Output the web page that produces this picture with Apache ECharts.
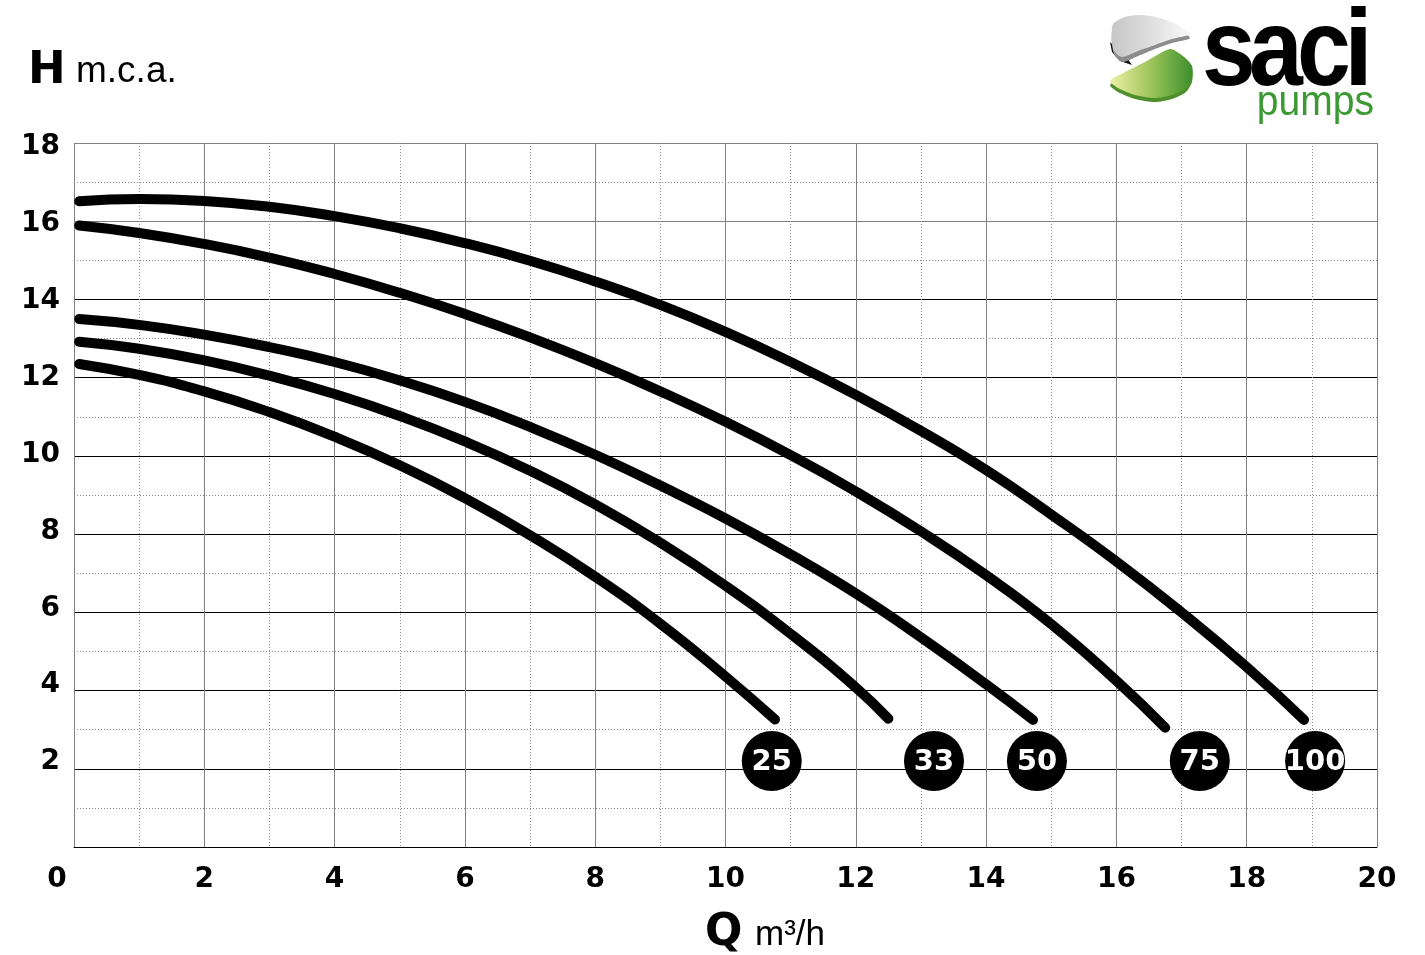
<!DOCTYPE html>
<html><head><meta charset="utf-8">
<script src="https://cdn.jsdelivr.net/npm/echarts@6/dist/echarts.min.js"></script>
<style>html,body{margin:0;padding:0;background:#fff}#c{width:1425px;height:955px}</style>
</head><body><div id="c"></div>
<script>
// ---- data ----
const yTickLabels = [2, 4, 6, 8, 10, 12, 14, 16, 18];
const xTickLabels = [0, 2, 4, 6, 8, 10, 12, 14, 16, 18, 20];

const q25 = [0.08, 1, 2, 3, 4, 5, 6, 7, 8, 9, 10, 10.76];
const h25 = [12.35, 12.07, 11.65, 11.12, 10.49, 9.76, 8.92, 7.97, 6.91, 5.71, 4.36, 3.26];

const q33 = [0.08, 1, 2, 3, 4, 5, 6, 7, 8, 9, 10, 11, 12, 12.5];
const h33 = [12.92, 12.74, 12.44, 12.05, 11.58, 11.02, 10.37, 9.62, 8.76, 7.78, 6.68, 5.45, 4.08, 3.28];

const q50 = [0.08, 1, 2, 3, 4, 5, 6, 7, 8, 9, 10, 11, 12, 13, 14, 14.72];
const h50 = [13.50, 13.35, 13.10, 12.78, 12.40, 11.93, 11.38, 10.74, 10.03, 9.24, 8.40, 7.48, 6.48, 5.36, 4.16, 3.25];

const q75 = [0.08, 1, 2, 3, 4, 5, 6, 7, 8, 9, 10, 11, 12, 13, 14, 15, 16, 16.75];
const h75 = [15.89, 15.70, 15.42, 15.07, 14.65, 14.17, 13.63, 13.03, 12.37, 11.65, 10.87, 10.02, 9.09, 8.07, 6.95, 5.70, 4.25, 3.05];

const q100 = [0.08, 1, 2, 3, 4, 5, 6, 7, 8, 9, 10, 11, 12, 13, 14, 15, 16, 17, 18, 18.88];
const h100 = [16.51, 16.57, 16.52, 16.37, 16.13, 15.82, 15.44, 14.99, 14.46, 13.86, 13.17, 12.40, 11.56, 10.64, 9.64, 8.50, 7.30, 6.00, 4.60, 3.25];

const badgeNames = ['25', '33', '50', '75', '100'];
const badgeQ = [10.71, 13.20, 14.78, 17.28, 19.05];
const badgeH = [2.2, 2.2, 2.2, 2.2, 2.2];

// ---- chart ----
const pair = (xs, ys) => xs.map((x, i) => [x, ys[i]]);
const curves = [[q25, h25], [q33, h33], [q50, h50], [q75, h75], [q100, h100]];

const chart = echarts.init(document.getElementById('c'), null, {renderer: 'canvas'});
const boldNum = {fontFamily: '"DejaVu Sans"', fontWeight: 'bold', fontSize: 28, color: '#000'};
const hLineColors = ['#000', '#000', '#000', '#000', '#000', '#000', '#000', '#000', '#808080', '#808080'];

const option = {
  animation: false,
  backgroundColor: '#fff',
  grid: {left: 74, right: 48, top: 143, bottom: 108, containLabel: false},
  xAxis: {
    type: 'value', min: 0, max: 20, interval: 2,
    axisLine: {show: true, lineStyle: {color: '#000', width: 1}},
    axisTick: {show: false},
    axisLabel: Object.assign({}, boldNum, {
      margin: 19,
      customValues: xTickLabels,
      formatter: v => v === 0 ? '{o|0}' : String(v),
      rich: {o: Object.assign({}, boldNum, {padding: [0, 34, 0, 0]})}
    }),
    splitLine: {show: true, lineStyle: {color: '#808080', width: 1}},
    minorTick: {show: false, splitNumber: 2},
    minorSplitLine: {show: true, lineStyle: {color: '#8a8a8a', width: 1, type: [1, 2]}}
  },
  yAxis: [
    {
      type: 'value', min: 0, max: 18, interval: 2, position: 'left',
      axisLine: {show: false}, axisTick: {show: false}, axisLabel: {show: false},
      splitLine: {show: true, lineStyle: {color: hLineColors, width: 1}},
      minorTick: {show: false, splitNumber: 2},
      minorSplitLine: {show: true, lineStyle: {color: '#8a8a8a', width: 1, type: [1, 2]}}
    },
    {
      type: 'value', min: -0.210, max: 18.104, position: 'left',
      axisLine: {show: false}, axisTick: {show: false}, splitLine: {show: false},
      axisLabel: Object.assign({}, boldNum, {margin: 14, customValues: yTickLabels})
    }
  ],
  series: curves.map((c, i) => ({
    name: badgeNames[i],
    type: 'line',
    yAxisIndex: 0,
    data: pair(c[0], c[1]),
    smooth: 0.5,
    symbol: 'none',
    lineStyle: {color: '#000', width: 10, cap: 'round', join: 'round'},
    z: 3
  })).concat([{
    type: 'scatter',
    yAxisIndex: 0,
    data: badgeNames.map((n, i) => ({name: n, value: [badgeQ[i], badgeH[i]]})),
    symbol: 'circle',
    symbolSize: 60,
    itemStyle: {color: '#000', opacity: 1},
    label: {
      show: true, position: 'inside', formatter: p => p.name, offset: [0, 2],
      color: '#fff', fontFamily: '"DejaVu Sans"', fontWeight: 'bold', fontSize: 29
    },
    emphasis: {disabled: true},
    z: 5
  }]),
  graphic: [
    {type: 'text', x: 28, y: 71, style: {text: 'H', font: 'bold 45px "DejaVu Sans"', fill: '#000', verticalAlign: 'middle', align: 'left'}},
    {type: 'text', x: 76, y: 72, style: {text: 'm.c.a.', font: '37px "Liberation Sans"', fill: '#000', verticalAlign: 'middle', align: 'left'}},
    {type: 'text', x: 705, y: 934, style: {text: 'Q', font: 'bold 44px "DejaVu Sans"', fill: '#000', verticalAlign: 'middle', align: 'left'}},
    {type: 'text', x: 755, y: 935, style: {text: 'm³/h', font: '35px "Liberation Sans"', fill: '#000', verticalAlign: 'middle', align: 'left'}},
    // logo
    {type: 'polygon', shape: {points: [[1110,42],[1112,52],[1120,61],[1132,65],[1125,55],[1114,46]]}, style: {fill: '#111'}},
    {type: 'polygon', shape: {points: [[1113,28],[1125,21],[1141,19],[1160,22],[1178,29],[1190,38],[1172,43],[1155,49],[1138,56],[1123,62],[1115,56],[1112,45]], smooth: 0.25},
      style: {fill: '#8d8d8d'}},
    {type: 'polygon', shape: {points: [[1113,24],[1125,17],[1141,15],[1160,18],[1178,25],[1190,34],[1172,39],[1155,45],[1138,51],[1122,57],[1114,51],[1112,40]], smooth: 0.25},
      style: {fill: new echarts.graphic.LinearGradient(0, 0, 1, 0, [{offset: 0, color: '#c6c6c6'}, {offset: 0.6, color: '#e4e4e4'}, {offset: 1, color: '#fafafa'}])}},
    {type: 'polygon', shape: {points: [[1170,53],[1183,60],[1192,70],[1192,82],[1186,92],[1172,99],[1155,102],[1135,99],[1118,92],[1110,85],[1125,76],[1145,66]], smooth: 0.25},
      style: {fill: '#4f8f2c'}},
    {type: 'polygon', shape: {points: [[1170,49],[1183,56],[1192,66],[1192,78],[1186,88],[1172,95],[1155,98],[1135,95],[1118,88],[1110,81],[1125,72],[1145,62]], smooth: 0.25},
      style: {fill: new echarts.graphic.LinearGradient(0, 0, 1, 0, [{offset: 0, color: '#eef0a6'}, {offset: 0.5, color: '#9cc45a'}, {offset: 1, color: '#3b8f2c'}])}},
    {type: 'text', x: 1202, y: 55, scaleX: 0.88, style: {text: 's', font: 'bold 110px "Liberation Sans"', fill: '#000', verticalAlign: 'middle', align: 'left'}},
    {type: 'text', x: 1249, y: 55, scaleX: 0.88, style: {text: 'a', font: 'bold 110px "Liberation Sans"', fill: '#000', verticalAlign: 'middle', align: 'left'}},
    {type: 'text', x: 1297, y: 55, scaleX: 0.88, style: {text: 'c', font: 'bold 110px "Liberation Sans"', fill: '#000', verticalAlign: 'middle', align: 'left'}},
    {type: 'text', x: 1344, y: 55, scaleX: 0.95, style: {text: 'i', font: 'bold 110px "Liberation Sans"', fill: '#000', verticalAlign: 'middle', align: 'left'}},
    {type: 'text', x: 1374, y: 103, scaleX: 0.93, style: {text: 'pumps', font: '42px "Liberation Sans"', fill: '#3c9a34', verticalAlign: 'middle', align: 'right'}}
  ]
};
chart.setOption(option);
</script>
</body></html>
